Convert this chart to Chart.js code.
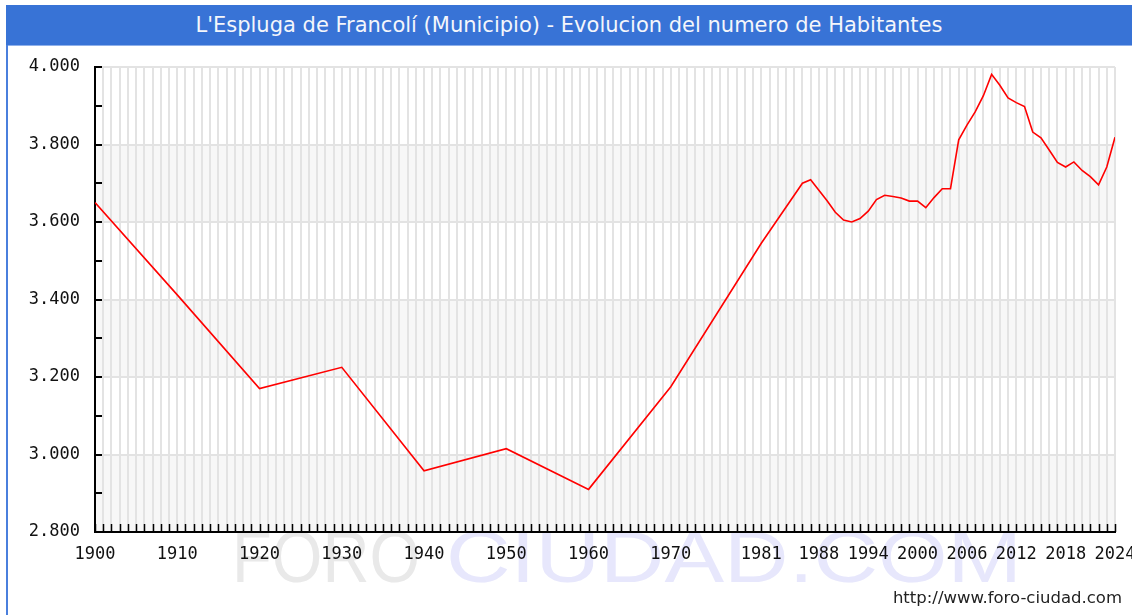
<!DOCTYPE html>
<html>
<head>
<meta charset="utf-8">
<script src="https://cdn.jsdelivr.net/npm/chart.js@4.4.1/dist/chart.umd.min.js"></script>
<style>
  body { margin: 0; background: #fff; }
  #wrap { position: relative; width: 1132px; height: 615px; background: #fff; overflow: hidden; }
  #chart { position: absolute; left: 0; top: 0; }
  #title {
    position: absolute; left: 6px; top: 5px; right: 0; height: 40px;
    background: #3873d6; border-bottom: 1px solid #8fb0ea;
    color: #f4f6fb; font: 21px "DejaVu Sans", sans-serif;
    text-align: center; line-height: 40px;
  }
  #frameLeft { position: absolute; left: 6px; top: 45px; width: 2px; height: 570px; background: #4a7fdd; }
  #url { position: absolute; right: 10px; top: 588px; font: 16.5px "DejaVu Sans", sans-serif; color: #222; }
</style>
</head>
<body>
<div id="wrap">
  <canvas id="chart" width="1132" height="615"></canvas>
  <div id="title">L'Espluga de Francolí (Municipio) - Evolucion del numero de Habitantes</div>
  <div id="frameLeft"></div>
  <div id="url">http://www.foro-ciudad.com</div>
</div>
<script>
// Census / padron years and inhabitants
const years = [
    1900, 1910, 1920, 1930, 1940, 1950, 1960, 1970, 1981,
    1986, 1987, 1988, 1989, 1990, 1991, 1992, 1993, 1994, 1995,
    1996, 1997, 1998, 1999, 2000, 2001, 2002, 2003, 2004, 2005,
    2006, 2007, 2008, 2009, 2010, 2011, 2012, 2013, 2014, 2015,
    2016, 2017, 2018, 2019, 2020, 2021, 2022, 2023, 2024
];
const habitantes = [
    3650, 3412, 3170, 3225, 2958, 3015, 2910, 3175, 3545,
    3700, 3709, 3682, 3655, 3625, 3605, 3600, 3609, 3628, 3658,
    3669, 3666, 3662, 3654, 3654, 3637, 3663, 3686, 3686, 3812,
    3850, 3884, 3926, 3981, 3953, 3920, 3908, 3898, 3832, 3817,
    3786, 3754, 3742, 3755, 3733, 3717, 3696, 3742, 3819
];

// Labelled years on the x axis
const xLabels = [1900, 1910, 1920, 1930, 1940, 1950, 1960, 1970, 1981, 1988, 1994, 2000, 2006, 2012, 2018, 2024];
const xMin = 1900;
const xMax = 2024;
const yMin = 2800;
const yMax = 4000;
const yStep = 200;
const yMinorStep = 100;

const points = years.map((y, i) => ({ x: y, y: habitantes[i] }));

function fmtMiles(v) {
    return String(v).replace(/\B(?=(\d{3})+(?!\d))/g, '.');
}

// Light grey bands every other y interval + watermark
const backdrop = {
    id: 'backdrop',
    beforeDraw(chart) {
        const { ctx, chartArea, scales } = chart;
        const ys = scales.y;
        ctx.save();
        // watermark
        ctx.textBaseline = 'alphabetic';
        ctx.font = '72px "Liberation Sans", sans-serif';
        const drawStretched = (txt, x, w, color) => {
            const nat = ctx.measureText(txt).width;
            ctx.save();
            ctx.translate(x, 582);
            ctx.scale(w / nat, 1);
            ctx.fillStyle = color;
            ctx.fillText(txt, 0, 0);
            ctx.restore();
        };
        drawStretched('FORO', 232, 188, '#e9e9e9');
        drawStretched('CIUDAD.COM', 446, 576, '#e7e7fc');

        // bands
        ctx.fillStyle = '#f7f7f7';
        for (let v = yMin; v < yMax; v += yStep * 2) {
            const top = ys.getPixelForValue(v + yStep);
            const bot = ys.getPixelForValue(v);
            ctx.fillRect(chartArea.left, top, chartArea.right - chartArea.left, bot - top);
        }
        ctx.restore();
    }
};

// Small black tick marks drawn inside the plot
const innerTicks = {
    id: 'innerTicks',
    afterDraw(chart) {
        const { ctx, chartArea, scales } = chart;
        ctx.save();
        ctx.strokeStyle = '#000';
        ctx.lineWidth = 1.5;
        ctx.beginPath();
        for (let yr = xMin; yr <= xMax; yr++) {
            const px = Math.round(scales.x.getPixelForValue(yr)) + 0.5;
            ctx.moveTo(px, chartArea.bottom);
            ctx.lineTo(px, chartArea.bottom - 8);
        }
        ctx.stroke();
        ctx.lineWidth = 2;
        ctx.beginPath();
        for (let v = yMin; v <= yMax; v += yMinorStep) {
            const py = Math.round(scales.y.getPixelForValue(v));
            ctx.moveTo(chartArea.left, py);
            ctx.lineTo(chartArea.left + 7, py);
        }
        ctx.stroke();
        ctx.restore();
    }
};

const allYears = [];
for (let yr = xMin; yr <= xMax; yr++) allYears.push(yr);

new Chart(document.getElementById('chart'), {
    type: 'line',
    data: {
        datasets: [{
            data: points,
            borderColor: '#ff0000',
            borderWidth: 1.6,
            pointRadius: 0,
            tension: 0,
            fill: false
        }]
    },
    options: {
        responsive: false,
        animation: false,
        devicePixelRatio: 1,
        layout: { padding: { top: 67, right: 17, left: 0, bottom: 0 } },
        plugins: {
            legend: { display: false },
            title: { display: false },
            tooltip: { enabled: false }
        },
        scales: {
            x: {
                type: 'linear',
                min: xMin,
                max: xMax,
                afterBuildTicks: (scale) => { scale.ticks = allYears.map(v => ({ value: v })); },
                afterFit: (scale) => {
                    scale.height = 83;
                    scale.paddingLeft = 0;
                    scale.paddingRight = 0;
                },
                grid: { color: '#e3e3e3', lineWidth: 2, drawTicks: false },
                border: { display: true, color: '#000', width: 2 },
                ticks: {
                    autoSkip: false,
                    maxRotation: 0,
                    padding: 12,
                    color: '#111',
                    font: { family: '"DejaVu Sans Mono", monospace', size: 17 },
                    callback: (v) => xLabels.includes(v) ? String(v) : ''
                }
            },
            y: {
                min: yMin,
                max: yMax,
                afterFit: (scale) => {
                    scale.width = 95;
                    scale.paddingTop = 0;
                    scale.paddingBottom = 0;
                },
                grid: { color: '#e3e3e3', lineWidth: 2, drawTicks: false },
                border: { display: true, color: '#000', width: 2 },
                ticks: {
                    stepSize: yStep,
                    padding: 15,
                    color: '#111',
                    font: { family: '"DejaVu Sans Mono", monospace', size: 17 },
                    callback: (v) => fmtMiles(v)
                }
            }
        }
    },
    plugins: [backdrop, innerTicks]
});
</script>
</body>
</html>
